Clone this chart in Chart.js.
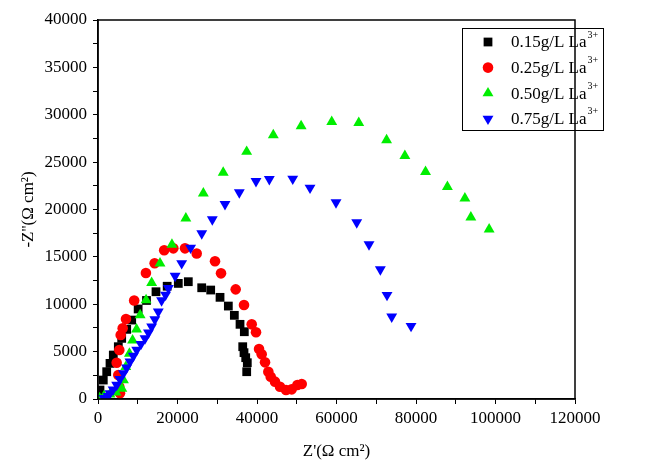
<!DOCTYPE html>
<html>
<head>
<meta charset="utf-8">
<script src="https://cdn.jsdelivr.net/npm/chart.js@4"></script>
<style>
  body { margin: 0; background: #fff; }
  #wrap { width: 656px; height: 462px; position: relative; }
</style>
</head>
<body>
<div id="wrap"><canvas id="myChart"></canvas></div>
<script>
Chart.defaults.font.family = '"Liberation Serif", "Times New Roman", serif';
Chart.defaults.font.size = 17;
Chart.defaults.color = '#000';

// Z' / -Z'' values (ohm cm2)
var x015 = [80, 500, 1330, 2190, 3020, 3850, 5110, 5960, 7220, 8480, 10100, 12200, 14590, 17400, 20200, 22720, 26090, 28350, 30700, 32790, 34300, 35730, 36810, 36410, 36730, 37160, 37560, 37410];
var y015 = [420, 950, 2000, 2880, 3760, 4640, 5520, 6400, 7350, 8330, 9500, 10400, 11320, 11900, 12200, 12380, 11740, 11500, 10730, 9810, 8830, 7880, 7100, 5520, 4890, 4360, 3830, 2880];

var x025 = [5530, 5360, 5110, 4700, 5360, 5710, 6210, 7040, 9100, 12050, 14250, 16650, 18950, 21890, 24830, 29440, 30950, 34640, 36730, 38670, 39750, 40510, 41180, 42020, 42850, 43450, 44530, 45790, 47300, 48730, 50150, 51250];
var y025 = [600, 1300, 2530, 3830, 5170, 6750, 7460, 8440, 10400, 13300, 14320, 15700, 15900, 15900, 15350, 14540, 13260, 11570, 9920, 7880, 7040, 5280, 4720, 3870, 2880, 2350, 1830, 1300, 950, 1020, 1480, 1580];

var x050 = [400, 1500, 3000, 4500, 6000, 6400, 7000, 7900, 8700, 9700, 10600, 12100, 13500, 15600, 18600, 22100, 26500, 31500, 37400, 44100, 51100, 58800, 65600, 72600, 77200, 82400, 87900, 92300, 93800, 98400];
var y050 = [100, 300, 500, 700, 1100, 2000, 3400, 4800, 6200, 7350, 8860, 10440, 12270, 14320, 16300, 19060, 21700, 23900, 26100, 27850, 28800, 29260, 29150, 27320, 25670, 23980, 22400, 21170, 19170, 17900];

var x075 = [1500, 2500, 3000, 3800, 4700, 5500, 6400, 7200, 8050, 8900, 9740, 10800, 11830, 12700, 13500, 14300, 15170, 16000, 17000, 17700, 19400, 21050, 23300, 26100, 28760, 31950, 35550, 39750, 43100, 48990, 53340, 59880, 65090, 68180, 71030, 72710, 73890, 78750];
var y075 = [100, 300, 600, 1000, 1480, 2100, 2710, 3300, 3940, 4550, 5170, 5800, 6400, 7000, 7630, 8400, 9210, 10400, 11000, 11700, 13000, 14320, 15960, 17480, 18960, 20570, 21800, 23000, 23210, 23240, 22290, 20750, 18640, 16320, 13680, 10970, 8680, 7700];

var seriesNames = ['0.15g/L La', '0.25g/L La', '0.50g/L La', '0.75g/L La'];

function pts(xs, ys) {
  return xs.map(function (v, i) { return { x: v, y: ys[i] }; });
}

var colors = ['#000000', '#ff0000', '#00ee00', '#0000ff'];

var frameAndLegend = {
  id: 'frameAndLegend',
  afterDraw: function (chart) {
    var ctx = chart.ctx, a = chart.chartArea;
    ctx.save();
    ctx.strokeStyle = '#000';
    ctx.lineWidth = 1.5;
    ctx.strokeRect(a.left, a.top, a.right - a.left, a.bottom - a.top);

    // legend box
    var bx = 462, by = 28, bw = 141, bh = 102;
    ctx.lineWidth = 1;
    ctx.strokeRect(bx + 0.5, by + 0.5, bw, bh);
    chart.data.datasets.forEach(function (ds, i) {
      var yy = by + 14 + i * 25.6;
      ctx.fillStyle = ds.backgroundColor;
      ctx.strokeStyle = ds.backgroundColor;
      Chart.helpers.drawPoint(ctx, {
        pointStyle: ds.pointStyle,
        radius: ds.pointRadius,
        rotation: ds.pointRotation || 0,
        borderWidth: 0
      }, bx + 26, yy);
      ctx.fillStyle = '#000';
      ctx.textBaseline = 'middle';
      ctx.textAlign = 'left';
      ctx.font = '17px "Liberation Serif", serif';
      ctx.fillText(seriesNames[i], bx + 49, yy + 1);
      var w = ctx.measureText(seriesNames[i]).width;
      ctx.font = '10px "Liberation Serif", serif';
      ctx.fillText('3+', bx + 49 + w + 1, yy - 7);
    });
    ctx.restore();
  }
};

new Chart(document.getElementById('myChart'), {
  type: 'scatter',
  data: {
    datasets: [
      { label: seriesNames[0], data: pts(x015, y015), backgroundColor: colors[0], borderColor: colors[0], pointStyle: 'rect', pointRadius: 6.2, borderWidth: 0, order: 3 },
      { label: seriesNames[1], data: pts(x025, y025), backgroundColor: colors[1], borderColor: colors[1], pointStyle: 'circle', pointRadius: 5.3, borderWidth: 0, order: 2 },
      { label: seriesNames[2], data: pts(x050, y050), backgroundColor: colors[2], borderColor: colors[2], pointStyle: 'triangle', pointRadius: 6.3, borderWidth: 0, order: 1 },
      { label: seriesNames[3], data: pts(x075, y075), backgroundColor: colors[3], borderColor: colors[3], pointStyle: 'triangle', pointRotation: 180, pointRadius: 6.3, borderWidth: 0, order: 0 }
    ]
  },
  options: {
    responsive: true,
    maintainAspectRatio: false,
    animation: false,
    layout: { padding: { top: 20, right: 81, left: 0, bottom: 0 } },
    plugins: {
      legend: { display: false },
      tooltip: { enabled: false }
    },
    scales: {
      x: {
        type: 'linear',
        min: 0,
        max: 120000,
        afterFit: function (s) { s.height = 63; },
        grid: { drawOnChartArea: false, drawTicks: true, tickLength: 5, color: '#000' },
        border: { display: true, color: '#000', width: 1.5 },
        ticks: {
          stepSize: 10000,
          autoSkip: false,
          maxRotation: 0,
          padding: 4,
          callback: function (v) { return v % 20000 === 0 ? String(v) : ''; }
        },
        title: { display: true, text: "Z'(Ω cm²)", font: { size: 17 }, padding: { top: 0, bottom: 0 } }
      },
      y: {
        type: 'linear',
        min: 0,
        max: 40000,
        afterFit: function (s) { s.width = 98; },
        grid: { drawOnChartArea: false, drawTicks: true, tickLength: 5, color: '#000' },
        border: { display: true, color: '#000', width: 1.5 },
        ticks: {
          stepSize: 2500,
          autoSkip: false,
          padding: 6,
          callback: function (v) { return v % 5000 === 0 ? String(v) : ''; }
        },
        title: { display: true, text: "-Z''(Ω cm²)", font: { size: 17 }, padding: { top: 18, bottom: 0 } }
      }
    }
  },
  plugins: [frameAndLegend]
});
</script>
</body>
</html>
